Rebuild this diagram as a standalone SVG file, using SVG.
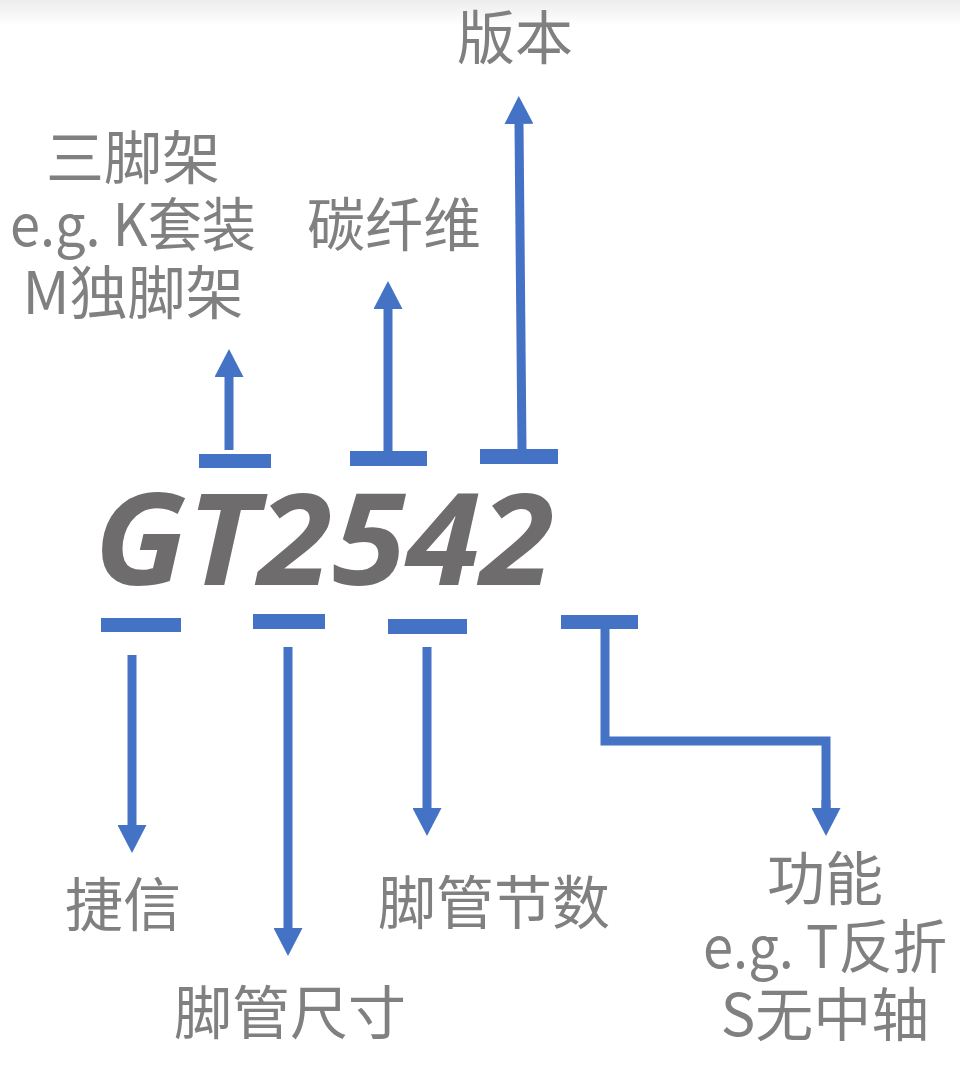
<svg xmlns="http://www.w3.org/2000/svg" width="960" height="1068" viewBox="0 0 960 1068">
<defs>
<linearGradient id="topshade" x1="0" y1="0" x2="0" y2="1">
<stop offset="0" stop-color="#ececec"/>
<stop offset="1" stop-color="#ffffff"/>
</linearGradient>
<marker id="ah" viewBox="0 0 28 29" markerWidth="28" markerHeight="29" markerUnits="userSpaceOnUse" refX="0" refY="14.5" orient="auto">
<path d="M0,0 L28,14.5 L0,29 z" fill="#4472C4"/>
</marker>
<style>
.lbl{font-family:"Noto Sans CJK SC","Noto Sans",sans-serif;font-size:58px;fill:#808080;text-anchor:middle}
.bar{fill:#4472C4}
.ln{stroke:#4472C4;stroke-width:9;fill:none}
.arr{stroke:#4472C4;stroke-width:9;fill:none;marker-end:url(#ah)}
.code{font-family:"Open Sans","Liberation Sans",sans-serif;font-weight:700;font-style:italic;font-size:128px;fill:#6e6c6d}
</style>
</defs>
<rect x="0" y="0" width="960" height="1068" fill="#ffffff"/>
<rect x="0" y="0" width="960" height="26" fill="url(#topshade)"/>

<g id="code">
<text class="code" x="94" y="585" textLength="460" lengthAdjust="spacingAndGlyphs">GT2542</text>
</g>

<g id="connectors">
<rect class="bar" x="199" y="454" width="72" height="14"/>
<line class="arr" x1="229" y1="450" x2="229" y2="377"/>
<rect class="bar" x="350" y="451" width="77" height="15"/>
<line class="arr" x1="388" y1="452" x2="388" y2="309"/>
<rect class="bar" x="480" y="449" width="78" height="15"/>
<line class="arr" x1="522" y1="450" x2="519" y2="124"/>

<rect class="bar" x="101" y="618" width="80" height="14"/>
<line class="arr" x1="132" y1="655" x2="132" y2="825"/>
<rect class="bar" x="253" y="614" width="72" height="15"/>
<line class="arr" x1="288" y1="647" x2="288" y2="928"/>
<rect class="bar" x="388" y="619" width="79" height="15"/>
<line class="arr" x1="427" y1="647" x2="427" y2="808"/>
<rect class="bar" x="561" y="615" width="77" height="14"/>
<polyline class="ln" points="605,628 605,741 826,741 826,808"/>
<line class="arr" x1="826" y1="800" x2="826" y2="808"/>
</g>

<g id="n-version"><text class="lbl" x="515" y="59">版本</text></g>
<g id="n-tripod">
<text class="lbl" x="133" y="179">三脚架</text>
<text class="lbl" x="133" y="246" textLength="246" lengthAdjust="spacingAndGlyphs">e.g. K套装</text>
<text class="lbl" x="133" y="314">M独脚架</text>
</g>
<g id="n-carbon"><text class="lbl" x="394" y="246">碳纤维</text></g>
<g id="n-brand"><text class="lbl" x="123" y="926">捷信</text></g>
<g id="n-size"><text class="lbl" x="290" y="1034">脚管尺寸</text></g>
<g id="n-sections"><text class="lbl" x="494" y="924">脚管节数</text></g>
<g id="n-function">
<text class="lbl" x="825" y="900">功能</text>
<text class="lbl" x="825" y="968" textLength="244" lengthAdjust="spacingAndGlyphs">e.g. T反折</text>
<text class="lbl" x="825" y="1036">S无中轴</text>
</g>
</svg>
